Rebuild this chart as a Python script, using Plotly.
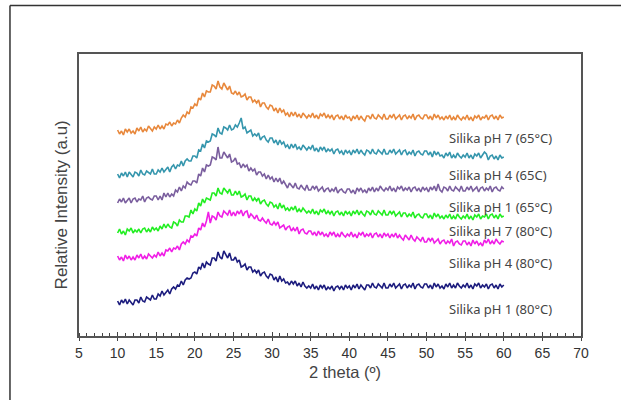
import plotly.graph_objects as go

two_theta = [10 + 0.25 * i for i in range(201)]

orange_ph7_65 = [
    206, 202, 205, 201, 207, 204, 207, 203, 205, 202, 208, 205, 209, 204, 207, 205, 210, 207, 205, 209,
    207, 211, 207, 210, 207, 212, 211, 214, 210, 213, 212, 216, 213, 218, 221, 219, 224, 222, 229, 228,
    232, 230, 238, 236, 243, 239, 245, 244, 244, 251, 250, 247, 255, 249, 247, 253, 249, 246, 250, 243,
    242, 245, 241, 244, 239, 240, 242, 236, 239, 239, 234, 236, 233, 236, 229, 233, 233, 229, 227, 231,
    230, 225, 228, 223, 228, 224, 226, 221, 223, 219, 224, 220, 224, 219, 222, 218, 223, 220, 218, 221,
    219, 223, 218, 221, 217, 222, 220, 223, 218, 221, 218, 221, 216, 220, 221, 217, 220, 216, 221, 218,
    219, 215, 220, 217, 221, 216, 220, 217, 215, 220, 220, 217, 222, 218, 217, 221, 219, 217, 222, 217,
    217, 221, 218, 222, 217, 219, 221, 216, 220, 221, 217, 220, 218, 222, 216, 220, 221, 218, 217, 221,
    221, 217, 220, 216, 222, 218, 221, 217, 219, 216, 220, 217, 221, 216, 219, 216, 221, 218, 216, 219,
    217, 221, 216, 219, 215, 220, 218, 221, 216, 219, 218, 221, 216, 220, 221, 217, 220, 216, 221, 218,
    219]
teal_ph4_65 = [
    162, 158, 163, 160, 164, 159, 164, 161, 159, 164, 163, 160, 166, 162, 161, 165, 163, 162, 167, 162,
    162, 166, 164, 168, 164, 166, 169, 164, 169, 171, 167, 171, 170, 175, 170, 175, 177, 175, 175, 180,
    180, 178, 186, 185, 192, 188, 195, 194, 195, 202, 201, 199, 208, 203, 202, 209, 208, 206, 211, 206,
    207, 211, 209, 213, 218, 207, 209, 203, 205, 206, 200, 202, 200, 203, 196, 199, 200, 196, 194, 198,
    198, 193, 196, 191, 196, 192, 194, 189, 191, 187, 192, 188, 192, 187, 189, 186, 191, 188, 186, 189,
    187, 191, 185, 188, 184, 189, 186, 189, 184, 187, 185, 187, 182, 186, 187, 183, 185, 181, 186, 183,
    185, 181, 186, 183, 187, 182, 186, 183, 181, 186, 185, 182, 187, 183, 182, 186, 184, 182, 187, 182,
    182, 186, 183, 187, 182, 184, 186, 181, 185, 186, 181, 184, 182, 186, 180, 184, 185, 182, 181, 185,
    185, 181, 184, 179, 185, 181, 184, 180, 181, 178, 183, 180, 184, 178, 181, 178, 183, 180, 178, 181,
    179, 183, 178, 181, 177, 182, 180, 183, 178, 181, 184, 182, 176, 180, 181, 177, 180, 176, 181, 178,
    179]
purple_ph1_65 = [
    133, 137, 134, 138, 133, 136, 138, 133, 137, 138, 134, 137, 136, 140, 134, 138, 139, 137, 136, 140,
    140, 136, 140, 136, 143, 139, 143, 139, 142, 140, 146, 144, 149, 145, 150, 148, 154, 152, 151, 155,
    155, 153, 162, 160, 168, 164, 171, 170, 171, 179, 178, 176, 189, 178, 178, 184, 181, 178, 182, 174,
    175, 178, 172, 173, 168, 172, 169, 171, 165, 168, 165, 167, 161, 164, 164, 160, 162, 157, 161, 157,
    159, 154, 158, 154, 158, 152, 155, 151, 148, 153, 151, 148, 153, 148, 147, 151, 148, 146, 151, 146,
    146, 150, 147, 150, 145, 147, 149, 144, 147, 148, 144, 147, 145, 149, 143, 146, 147, 144, 143, 147,
    147, 143, 146, 142, 148, 145, 148, 144, 146, 143, 148, 145, 149, 144, 148, 145, 150, 147, 145, 148,
    146, 150, 145, 148, 144, 149, 147, 150, 145, 148, 146, 149, 144, 148, 149, 145, 148, 144, 149, 146,
    148, 144, 149, 146, 150, 145, 152, 146, 144, 149, 148, 145, 150, 146, 145, 149, 147, 145, 150, 145,
    145, 149, 146, 150, 145, 147, 149, 144, 148, 149, 145, 148, 146, 150, 144, 148, 149, 146, 145, 149,
    147]
green_ph7_80 = [
    103, 107, 102, 105, 101, 107, 105, 108, 103, 106, 104, 107, 103, 107, 108, 104, 107, 104, 109, 106,
    108, 105, 110, 107, 112, 108, 112, 109, 108, 114, 113, 110, 116, 114, 114, 120, 120, 119, 126, 122,
    127, 125, 133, 130, 137, 133, 138, 137, 136, 143, 143, 140, 148, 143, 142, 148, 145, 143, 147, 141,
    141, 145, 141, 145, 139, 140, 142, 136, 140, 140, 135, 138, 135, 138, 132, 135, 136, 132, 130, 134,
    133, 129, 131, 127, 133, 128, 131, 126, 128, 125, 129, 126, 130, 124, 127, 124, 128, 125, 123, 125,
    123, 127, 122, 125, 121, 126, 124, 127, 122, 125, 122, 125, 120, 124, 125, 121, 124, 120, 125, 122,
    124, 120, 125, 122, 126, 121, 125, 122, 120, 125, 124, 121, 126, 122, 121, 125, 123, 121, 126, 121,
    121, 125, 122, 125, 120, 122, 124, 119, 123, 123, 119, 122, 120, 124, 118, 121, 122, 119, 118, 122,
    122, 118, 121, 117, 123, 119, 122, 118, 120, 117, 121, 118, 122, 117, 120, 117, 122, 119, 117, 120,
    118, 122, 117, 120, 116, 121, 119, 122, 117, 120, 119, 122, 117, 121, 122, 118, 121, 117, 122, 119,
    120]
magenta_ph4_80 = [
    80, 76, 79, 75, 81, 77, 80, 76, 79, 76, 81, 78, 82, 77, 80, 77, 82, 80, 78, 81,
    79, 84, 80, 83, 80, 86, 85, 88, 84, 88, 87, 90, 86, 92, 94, 92, 96, 94, 100, 99,
    102, 100, 108, 106, 113, 109, 115, 124, 113, 120, 119, 116, 124, 120, 119, 125, 123, 121, 126, 120,
    124, 120, 125, 122, 126, 120, 124, 125, 118, 122, 120, 117, 121, 116, 115, 118, 115, 113, 117, 112,
    111, 114, 111, 114, 108, 110, 111, 106, 109, 110, 105, 108, 105, 109, 102, 106, 107, 103, 102, 105,
    105, 101, 104, 100, 105, 101, 104, 100, 102, 99, 104, 101, 104, 99, 102, 99, 104, 101, 99, 102,
    100, 104, 99, 102, 98, 103, 101, 104, 99, 102, 100, 103, 98, 102, 103, 99, 102, 98, 103, 100,
    102, 98, 102, 99, 103, 98, 101, 98, 96, 101, 99, 96, 101, 97, 95, 99, 97, 95, 99, 94,
    94, 98, 95, 98, 93, 95, 97, 92, 95, 96, 92, 95, 93, 97, 90, 94, 95, 92, 91, 95,
    95, 91, 94, 90, 96, 92, 95, 91, 93, 90, 96, 93, 97, 92, 95, 92, 97, 94, 92, 95,
    94]
navy_ph1_80 = [
    35, 31, 36, 33, 37, 32, 36, 33, 31, 36, 36, 33, 39, 35, 34, 39, 37, 36, 41, 37,
    37, 42, 40, 45, 41, 43, 46, 42, 47, 49, 47, 51, 50, 55, 51, 56, 58, 57, 58, 63,
    64, 62, 69, 67, 73, 68, 74, 72, 71, 78, 78, 75, 84, 79, 77, 85, 81, 78, 83, 76,
    76, 79, 74, 76, 69, 70, 72, 66, 69, 69, 64, 66, 63, 66, 60, 63, 64, 60, 58, 62,
    61, 56, 59, 54, 60, 55, 57, 53, 54, 51, 55, 52, 55, 50, 53, 49, 54, 50, 48, 50,
    48, 52, 47, 50, 46, 51, 48, 51, 46, 49, 47, 50, 45, 49, 50, 47, 50, 46, 51, 48,
    50, 46, 51, 48, 52, 47, 51, 48, 46, 51, 51, 48, 53, 49, 48, 52, 50, 48, 53, 48,
    48, 52, 49, 53, 48, 50, 52, 47, 51, 52, 48, 51, 49, 53, 47, 51, 52, 49, 48, 52,
    52, 48, 51, 47, 53, 49, 52, 48, 50, 47, 52, 49, 53, 48, 51, 48, 53, 50, 48, 51,
    49, 53, 48, 51, 47, 52, 50, 53, 48, 51, 49, 52, 47, 51, 52, 48, 51, 47, 52, 49,
    51]

series_names = ["Silika pH 7 (65°C)", "Silika pH 4 (65C)", "Silika pH 1 (65°C)",
                "Silika pH 7 (80°C)", "Silika pH 4 (80°C)", "Silika pH 1 (80°C)"]
series_values = [orange_ph7_65, teal_ph4_65, purple_ph1_65,
                 green_ph7_80, magenta_ph4_80, navy_ph1_80]
series_colors = ["#E8883C", "#3596AD", "#7A5E9E", "#22EE22", "#F01EE6", "#1C1C7E"]
label_y = [198, 161, 129, 105, 73, 27]
label_x = 52.6
x_ticks = list(range(5, 71, 5))

fig = go.Figure()
for name, vals, color, ly in zip(series_names, series_values, series_colors, label_y):
    fig.add_trace(go.Scatter(x=two_theta, y=vals, mode="lines", name=name,
                             line=dict(color=color, width=1.6), showlegend=False))
    fig.add_annotation(x=label_x, y=ly, text=name, showarrow=False, xanchor="left",
                       yanchor="middle", font=dict(family="Noto Sans", size=13, color="#444"))

# invisible trace for the overlay axis carrying the inward part of major ticks
fig.add_trace(go.Scatter(x=[5, 70], y=[0, 0], xaxis="x2", mode="lines",
                         line=dict(width=0), hoverinfo="skip", showlegend=False))

fig.update_layout(
    width=621, height=400,
    margin=dict(l=79, r=40, t=54, b=64),
    paper_bgcolor="white", plot_bgcolor="white",
    xaxis=dict(range=[5, 70], tickvals=x_ticks, ticks="outside", ticklen=3,
               tickcolor="#444", showline=True, linecolor="#555", linewidth=1.5,
               mirror=True, showgrid=False, zeroline=False,
               tickfont=dict(family="Liberation Sans", size=14, color="#333"),
               minor=dict(dtick=1, ticks="inside", ticklen=3, tickcolor="#444")),
    xaxis2=dict(range=[5, 70], overlaying="x", anchor="y", side="bottom",
                tickvals=x_ticks, ticks="inside", ticklen=4, tickcolor="#444",
                showticklabels=False, showgrid=False, zeroline=False, showline=False),
    yaxis=dict(range=[0, 282], showticklabels=False, ticks="", showgrid=False,
               zeroline=False, showline=True, linecolor="#555", linewidth=1.5,
               mirror=True),
)

fig.add_annotation(xref="paper", yref="y", x=-0.058, y=131, text="Relative Intensity (a.u)",
                   textangle=-90, showarrow=False,
                   font=dict(family="Liberation Sans", size=17, color="#444"))
fig.add_annotation(xref="x", yref="paper", x=39.4, y=-0.167, text="2 theta (º)",
                   showarrow=False, font=dict(family="Liberation Sans", size=16.5, color="#444"))

# outer frame (left and top edges)
fig.add_shape(type="line", xref="paper", yref="paper", x0=-0.1375, x1=-0.1375,
              y0=-0.23, y1=1.172, line=dict(color="#333", width=1.5))
fig.add_shape(type="line", xref="paper", yref="paper", x0=-0.1375, x1=1.085,
              y0=1.172, y1=1.172, line=dict(color="#333", width=1.5))

fig.write_html("out.html", config={"displayModeBar": False},
               post_script="document.body.style.margin='0';")
